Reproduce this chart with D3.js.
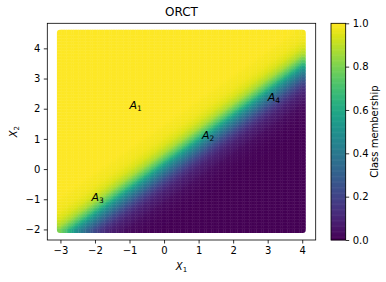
<!DOCTYPE html>
<html><head><meta charset="utf-8">
<script src="https://cdn.jsdelivr.net/npm/d3@7"></script>
<style>
body{margin:0;background:#fff;}
svg{display:block;font-family:"DejaVu Sans",sans-serif;}
</style></head>
<body><svg id="c" width="386" height="282"></svg>
<script>
// ---- data ----
const title = "ORCT";
const xTicks = [-3,-2,-1,0,1,2,3,4];
const yTicks = [-2,-1,0,1,2,3,4];
const cbTicks = [0,0.2,0.4,0.6,0.8,1.0];
const gridX = [-3, 4];      // grid extent of evaluated points (X1)
const gridY = [-2, 4.5];    // grid extent (X2)
const gridStep = 0.05;
// class boundary (membership 0.5): X2 = slope*X1 + intercept
const boundarySlope = 0.81;
const boundaryIntercept = 0.05;
// membership profile across the boundary (offset = X2 - slope*X1 - intercept)
const profileOffset = [-2.0,-1.6,-1.2,-0.8,-0.6,-0.4,-0.2,0,0.25,0.5,0.75,1.0,1.5,2.0];
const profileValue  = [0.003,0.009,0.029,0.088,0.147,0.237,0.358,0.5,0.72,0.869,0.945,0.978,0.997,1.0];
const regionLabels = ["1","2","3","4"];
const regionX = [-1, 1.1, -2.1, 3.0];
const regionY = [2, 1.0, -1.05, 2.25];

// ---- layout ----
const svg = d3.select("#c");
const L = 47.3, R = 315.7, T = 23.3, B = 240;
const x = d3.scaleLinear().domain([-3.38, 4.39]).range([L, R]);
const y = d3.scaleLinear().domain([-2.35, 4.83]).range([B, T]);
const profile = d3.scaleLinear().domain(profileOffset).range(profileValue).clamp(true);

// clip for rounded scatter region
const pad = 3.5;
const defs = svg.append("defs");
defs.append("clipPath").attr("id","clipR").append("rect")
  .attr("x", x(gridX[0]) - pad).attr("y", y(gridY[1]) - pad)
  .attr("width", x(gridX[1]) - x(gridX[0]) + 2*pad)
  .attr("height", y(gridY[0]) - y(gridY[1]) + 2*pad)
  .attr("rx", 3).attr("ry", 3);

const nx = Math.round((gridX[1]-gridX[0])/gridStep);
const ny = Math.round((gridY[1]-gridY[0])/gridStep);
const cells = [];
for (let i = 0; i <= nx; i++) {
  const xv = gridX[0] + i*gridStep;
  for (let j = 0; j <= ny; j++) {
    const yv = gridY[0] + j*gridStep;
    cells.push({x: xv, y: yv, i, j, v: profile(yv - boundarySlope*xv - boundaryIntercept)});
  }
}
const cw = Math.abs(x(gridStep) - x(0));
const ch = Math.abs(y(0) - y(gridStep));
const gCells = svg.append("g").attr("clip-path","url(#clipR)");
gCells.selectAll("rect").data(cells).join("rect")
  .attr("x", d => x(d.x) - cw/2 - (d.i === 0 ? pad : 0) - 0.2)
  .attr("y", d => y(d.y) - ch/2 - (d.j === ny ? pad : 0) - 0.2)
  .attr("width", d => cw + 0.4 + ((d.i === 0 || d.i === nx) ? pad : 0))
  .attr("height", d => ch + 0.4 + ((d.j === 0 || d.j === ny) ? pad : 0))
  .attr("fill", d => d3.interpolateViridis(d.v));

// frame
svg.append("rect").attr("x", L).attr("y", T).attr("width", R-L).attr("height", B-T)
  .attr("fill","none").attr("stroke","#000").attr("stroke-width",0.8);

// axes
const fmt = d => (d < 0 ? "\u2212" + Math.abs(d) : String(d));
const xAxis = svg.append("g").attr("transform", `translate(0,${B})`)
  .call(d3.axisBottom(x).tickValues(xTicks).tickFormat(fmt).tickSize(3.5).tickPadding(3.5));
const yAxis = svg.append("g").attr("transform", `translate(${L},0)`)
  .call(d3.axisLeft(y).tickValues(yTicks).tickFormat(fmt).tickSize(3.5).tickPadding(3.5));
[xAxis, yAxis].forEach(a => {
  a.select(".domain").remove();
  a.selectAll("line").attr("stroke","#000").attr("stroke-width",0.8);
  a.selectAll("text").attr("font-size",10).attr("fill","#000").attr("font-family","DejaVu Sans");
});

// title & labels
svg.append("text").attr("x", (L+R)/2).attr("y", 16).attr("text-anchor","middle")
  .attr("font-size",12).text(title);
const xl = svg.append("text").attr("x", (L+R)/2).attr("y", 270).attr("text-anchor","middle")
  .attr("font-size",10).attr("font-style","italic");
xl.append("tspan").text("X");
xl.append("tspan").attr("font-size",7).attr("dy",2).attr("font-style","normal").text("1");
const yl = svg.append("text").attr("transform", `translate(17,${(T+B)/2}) rotate(-90)`)
  .attr("text-anchor","middle").attr("font-size",10).attr("font-style","italic");
yl.append("tspan").text("X");
yl.append("tspan").attr("font-size",7).attr("dy",2).attr("font-style","normal").text("2");

// region labels
regionLabels.forEach((s,i) => {
  const t = svg.append("text").attr("x", x(regionX[i])).attr("y", y(regionY[i]))
    .attr("font-size",11).attr("font-style","italic").attr("fill","#000");
  t.append("tspan").text("A");
  t.append("tspan").attr("font-size",7.5).attr("dy",2).attr("font-style","normal").text(s);
});

// colorbar
const cbL = 331, cbR = 345.7;
const cb = d3.scaleLinear().domain([0,1]).range([B, T]);
const steps = d3.range(0, 256);
svg.append("g").selectAll("rect").data(steps).join("rect")
  .attr("x", cbL).attr("width", cbR - cbL)
  .attr("y", d => cb((d+1)/256) - 0.3)
  .attr("height", d => cb(d/256) - cb((d+1)/256) + 0.6)
  .attr("fill", d => d3.interpolateViridis(d/255));
svg.append("rect").attr("x", cbL).attr("y", T).attr("width", cbR-cbL).attr("height", B-T)
  .attr("fill","none").attr("stroke","#000").attr("stroke-width",0.8);
const cbAxis = svg.append("g").attr("transform", `translate(${cbR},0)`)
  .call(d3.axisRight(cb).tickValues(cbTicks).tickFormat(d3.format(".1f")).tickSize(3.5).tickPadding(3.5));
cbAxis.select(".domain").remove();
cbAxis.selectAll("line").attr("stroke","#000").attr("stroke-width",0.8);
cbAxis.selectAll("text").attr("font-size",10).attr("fill","#000").attr("font-family","DejaVu Sans");
svg.append("text").attr("transform", `translate(378,${(T+B)/2}) rotate(-90)`)
  .attr("text-anchor","middle").attr("font-size",10).text("Class membership");
</script></body></html>
